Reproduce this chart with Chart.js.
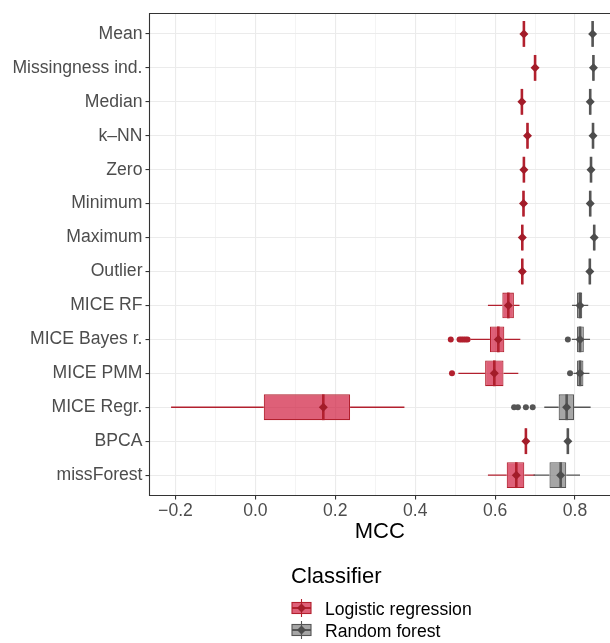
<!DOCTYPE html>
<html>
<head>
<meta charset="utf-8">
<script src="https://cdn.jsdelivr.net/npm/chart.js@4.4.0/dist/chart.umd.min.js"></script>
<style>
  html, body { margin: 0; padding: 0; background: #fff; }
</style>
</head>
<body>
<canvas id="chart" width="610" height="643"></canvas>
<script>
// imputation methods, top to bottom
const methods = ["Mean", "Missingness ind.", "Median", "k\u2013NN", "Zero", "Minimum", "Maximum",
  "Outlier", "MICE RF", "MICE Bayes r.", "MICE PMM", "MICE Regr.", "BPCA", "missForest"];

// logistic regression: box stats per method
const lrLow    = [0.670, 0.698, 0.665, 0.679, 0.670, 0.669, 0.666, 0.666, 0.582, 0.538, 0.508, -0.211, 0.675, 0.582];
const lrQ1     = [0.670, 0.698, 0.665, 0.679, 0.670, 0.669, 0.666, 0.666, 0.618, 0.587, 0.575, 0.021, 0.675, 0.629];
const lrMedian = [0.672, 0.700, 0.667, 0.681, 0.672, 0.671, 0.668, 0.668, 0.633, 0.608, 0.598, 0.170, 0.677, 0.653];
const lrQ3     = [0.674, 0.702, 0.669, 0.683, 0.674, 0.673, 0.670, 0.670, 0.647, 0.623, 0.621, 0.237, 0.679, 0.673];
const lrHigh   = [0.674, 0.702, 0.669, 0.683, 0.674, 0.673, 0.670, 0.670, 0.661, 0.663, 0.658, 0.373, 0.679, 0.700];
const lrMean   = [0.672, 0.700, 0.667, 0.681, 0.672, 0.671, 0.668, 0.668, 0.633, 0.608, 0.598, 0.170, 0.677, 0.653];
const lrOutliers = [
  [9, 0.489], [9, 0.511], [9, 0.516], [9, 0.521], [9, 0.526], [9, 0.531],
  [10, 0.492]
];

// random forest
const rfLow    = [0.842, 0.844, 0.836, 0.843, 0.838, 0.836, 0.846, 0.835, 0.7925, 0.792, 0.796, 0.723, 0.780, 0.696];
const rfQ1     = [0.842, 0.844, 0.836, 0.843, 0.838, 0.836, 0.846, 0.835, 0.805, 0.805, 0.805, 0.759, 0.780, 0.736];
const rfMedian = [0.844, 0.846, 0.838, 0.845, 0.840, 0.838, 0.848, 0.837, 0.8125, 0.8125, 0.8125, 0.779, 0.782, 0.764];
const rfQ3     = [0.846, 0.848, 0.840, 0.847, 0.842, 0.840, 0.850, 0.839, 0.818, 0.822, 0.821, 0.7975, 0.784, 0.778];
const rfHigh   = [0.846, 0.848, 0.840, 0.847, 0.842, 0.840, 0.850, 0.839, 0.833, 0.8375, 0.836, 0.839, 0.784, 0.8125];
const rfMean   = [0.844, 0.846, 0.838, 0.845, 0.840, 0.838, 0.848, 0.837, 0.8125, 0.8125, 0.8125, 0.779, 0.782, 0.764];
const rfOutliers = [
  [9, 0.782],
  [10, 0.7875],
  [11, 0.6475], [11, 0.657], [11, 0.677], [11, 0.694]
];

const xMajorTicks = [-0.2, 0.0, 0.2, 0.4, 0.6, 0.8];
const xTickLabels = ["\u22120.2", "0.0", "0.2", "0.4", "0.6", "0.8"];
const xMinorTicks = [-0.1, 0.1, 0.3, 0.5, 0.7];

const FONT = "'Liberation Sans', Arial, Helvetica, sans-serif";

const groups = [
  { name: "Logistic regression", low: lrLow, q1: lrQ1, med: lrMedian, q3: lrQ3, high: lrHigh, mean: lrMean, out: lrOutliers,
    fill: "rgba(208, 28, 62, 0.70)", line: "#B2202E", dark: "#A31C29" },
  { name: "Random forest", low: rfLow, q1: rfQ1, med: rfMedian, q3: rfQ3, high: rfHigh, mean: rfMean, out: rfOutliers,
    fill: "rgba(128, 128, 128, 0.70)", line: "#555555", dark: "#4D4D4D" }
];

const datasets = [];
groups.forEach((g, gi) => {
  datasets.push({
    type: "bar",
    label: g.name,
    group: gi,
    isBox: true,
    order: 3,
    data: methods.map((m, i) => ({ y: i, x: [g.q1[i], g.q3[i]] })),
    backgroundColor: g.fill,
    borderColor: g.line,
    borderWidth: 1.1,
    borderSkipped: false,
    grouped: false,
    categoryPercentage: 1,
    barPercentage: 0.76
  });
  datasets.push({
    type: "scatter",
    label: g.name + " outliers",
    order: 2,
    data: g.out.map(o => ({ y: o[0], x: o[1] })),
    pointStyle: "circle",
    radius: 3,
    backgroundColor: g.line,
    borderWidth: 0
  });
  datasets.push({
    type: "scatter",
    label: g.name + " mean",
    order: 1,
    data: methods.map((m, i) => ({ y: i, x: g.mean[i] })),
    pointStyle: "rectRot",
    radius: 4.5,
    backgroundColor: g.dark,
    borderWidth: 0
  });
});

const boxParts = {
  id: "boxParts",
  beforeDatasetsDraw(chart) {
    const { ctx, scales: { x, y } } = chart;
    ctx.save();
    ctx.lineWidth = 1.3;
    groups.forEach(g => {
      ctx.strokeStyle = g.line;
      methods.forEach((m, i) => {
        const py = y.getPixelForValue(i);
        ctx.beginPath();
        if (g.low[i] < g.q1[i]) {
          ctx.moveTo(x.getPixelForValue(g.low[i]), py);
          ctx.lineTo(x.getPixelForValue(g.q1[i]), py);
        }
        if (g.high[i] > g.q3[i]) {
          ctx.moveTo(x.getPixelForValue(g.q3[i]), py);
          ctx.lineTo(x.getPixelForValue(g.high[i]), py);
        }
        ctx.stroke();
      });
    });
    ctx.restore();
  },
  afterDatasetDraw(chart, args) {
    const ds = chart.data.datasets[args.index];
    if (!ds.isBox) return;
    const g = groups[ds.group];
    const { ctx, scales: { x } } = chart;
    ctx.save();
    ctx.strokeStyle = g.line;
    ctx.lineWidth = 2.6;
    args.meta.data.forEach((bar, i) => {
      const px = x.getPixelForValue(g.med[i]);
      const half = bar.height / 2;
      ctx.beginPath();
      ctx.moveTo(px, bar.y - half);
      ctx.lineTo(px, bar.y + half);
      ctx.stroke();
    });
    ctx.restore();
  },
  afterDraw(chart) {
    const { ctx, chartArea: a } = chart;
    ctx.save();
    // panel border (right side falls outside the picture)
    ctx.strokeStyle = "#333333";
    ctx.lineWidth = 1.1;
    ctx.beginPath();
    ctx.moveTo(a.right + 1, a.top);
    ctx.lineTo(a.left, a.top);
    ctx.lineTo(a.left, a.bottom);
    ctx.lineTo(a.right + 1, a.bottom);
    ctx.stroke();

    // legend
    ctx.fillStyle = "#000";
    ctx.textAlign = "left";
    ctx.textBaseline = "middle";
    ctx.font = "22px " + FONT;
    ctx.fillText("Classifier", 291, 577);
    ctx.font = "17.6px " + FONT;
    groups.forEach((g, i) => {
      const cy = 608 + i * 22;
      const kx = 292, kw = 19;
      ctx.fillStyle = g.fill;
      ctx.fillRect(kx, cy - 5.5, kw, 11);
      ctx.strokeStyle = g.line;
      ctx.lineWidth = 1.1;
      ctx.strokeRect(kx, cy - 5.5, kw, 11);
      ctx.beginPath();
      ctx.moveTo(kx + kw / 2, cy - 9);
      ctx.lineTo(kx + kw / 2, cy + 9);
      ctx.stroke();
      ctx.lineWidth = 2;
      ctx.beginPath();
      ctx.moveTo(kx, cy);
      ctx.lineTo(kx + kw, cy);
      ctx.stroke();
      ctx.fillStyle = g.dark;
      ctx.beginPath();
      ctx.moveTo(kx + kw / 2, cy - 4.5);
      ctx.lineTo(kx + kw / 2 + 4.5, cy);
      ctx.lineTo(kx + kw / 2, cy + 4.5);
      ctx.lineTo(kx + kw / 2 - 4.5, cy);
      ctx.closePath();
      ctx.fill();
      ctx.fillStyle = "#000";
      ctx.fillText(g.name, 325, cy + 2);
    });
    ctx.restore();
  }
};

const isMajor = v => xMajorTicks.includes(v);

new Chart(document.getElementById("chart"), {
  type: "bar",
  data: { datasets },
  options: {
    indexAxis: "y",
    responsive: false,
    animation: false,
    devicePixelRatio: 1,
    events: [],
    layout: { autoPadding: false, padding: { top: 9.5, right: 0, bottom: 0, left: 0 } },
    plugins: { legend: { display: false }, tooltip: { enabled: false } },
    scales: {
      x: {
        type: "linear",
        position: "bottom",
        min: -0.265,
        max: 0.8875,
        offset: false,
        afterBuildTicks: s => { s.ticks = xMajorTicks.concat(xMinorTicks).sort((a, b) => a - b).map(v => ({ value: v })); },
        afterFit: s => { s.height = 147.5; },
        border: { display: false },
        grid: {
          offset: false,
          color: "#EBEBEB",
          lineWidth: c => (c.tick && isMajor(c.tick.value) ? 1.1 : 0.55),
          tickLength: 4,
          tickColor: c => (c.tick && isMajor(c.tick.value) ? "#333333" : "rgba(0,0,0,0)"),
          tickWidth: 1.1
        },
        ticks: {
          autoSkip: false,
          maxRotation: 0,
          padding: 1,
          color: "#4D4D4D",
          font: { family: FONT, size: 17.6 },
          callback: v => (isMajor(v) ? xTickLabels[xMajorTicks.indexOf(v)] : "")
        },
        title: {
          display: true,
          text: "MCC",
          color: "#000",
          font: { family: FONT, size: 22 },
          padding: { top: 0, bottom: 98 }
        }
      },
      y: {
        type: "linear",
        position: "left",
        reverse: true,
        min: -0.6,
        max: 13.6,
        offset: false,
        afterBuildTicks: s => { s.ticks = methods.map((m, i) => ({ value: i })); },
        afterFit: s => { s.width = 149.5; },
        border: { display: false },
        grid: {
          offset: false,
          color: "#EBEBEB",
          lineWidth: 1.1,
          tickLength: 4,
          tickColor: "#333333",
          tickWidth: 1.1
        },
        ticks: {
          autoSkip: false,
          padding: 3,
          color: "#4D4D4D",
          font: { family: FONT, size: 17.6 },
          callback: v => methods[v]
        }
      }
    }
  },
  plugins: [boxParts]
});
</script>
</body>
</html>
